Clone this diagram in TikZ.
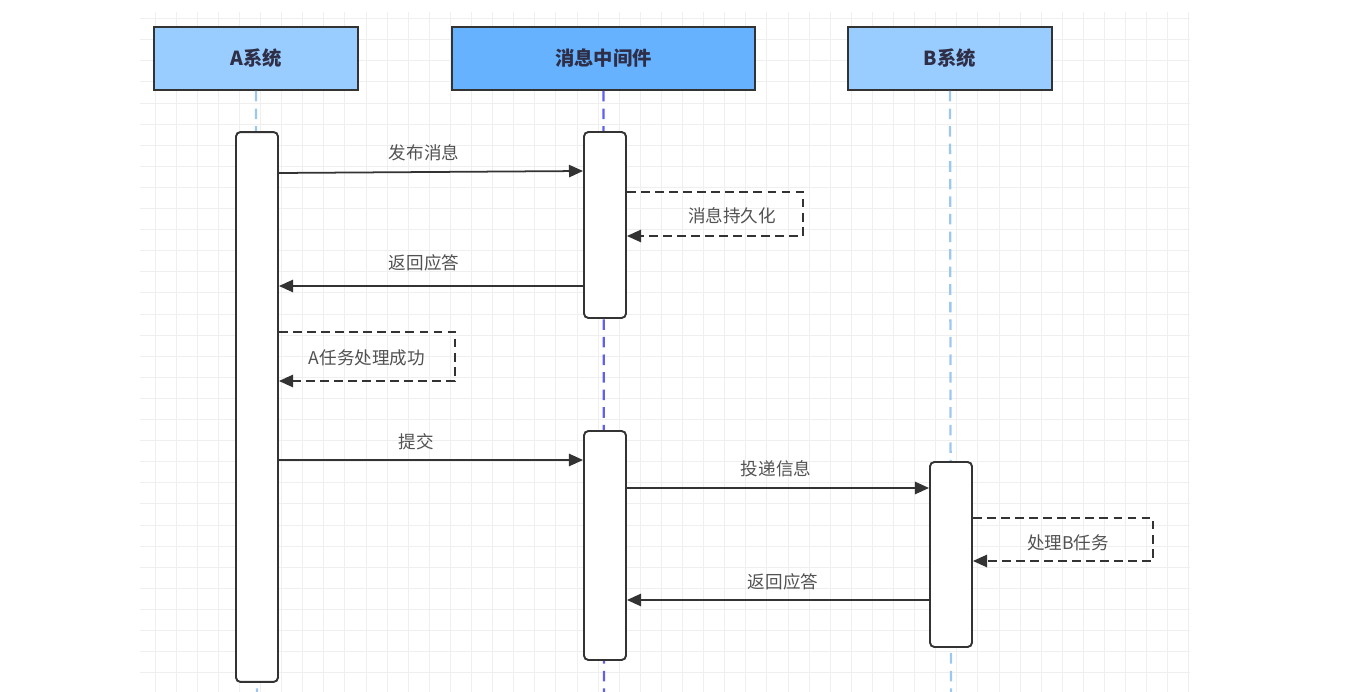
\documentclass[tikz,border=0pt]{standalone}
\usepackage{fontspec}
\usepackage{xcolor}
\usepackage{tikz}
\usetikzlibrary{arrows.meta, positioning}
\newfontfamily\cjk{Noto Sans CJK SC}
\definecolor{hdrlight}{HTML}{99CCFF}
\definecolor{hdrdark}{HTML}{66B2FF}
\definecolor{lifelight}{HTML}{9CC8F0}
\definecolor{lifedark}{HTML}{5F5FF0}
\definecolor{inkgray}{HTML}{333333}
\definecolor{gridgray}{HTML}{EFEFEF}
\tikzset{
  hdrbox/.style={draw=inkgray,line width=1.1pt,fill=hdrlight,minimum width=4.08cm,minimum height=1.26cm,font=\cjk\bfseries\fontsize{11}{13}\selectfont,text=inkgray!90!blue},
  actbox/.style={draw=inkgray,line width=1.1pt,fill=white,rounded corners=2.5pt,minimum width=0.84cm,inner sep=0pt},
  lifeline/.style={dashed,line width=1.3pt,dash pattern=on 6pt off 4pt},
  msg/.style={-{Triangle[length=8pt,width=7pt]},line width=1pt,inkgray},
  selfmsg/.style={msg,dashed,dash pattern=on 5pt off 3pt},
  lbl/.style={font=\cjk\fontsize{10}{12}\selectfont,text=inkgray!85,inner sep=1pt},
  gridline/.style={gridgray,line width=0.5pt},
}

\begin{document}
\begin{tikzpicture}[x=0.02cm,y=-0.02cm]
  \useasboundingbox (0,0) rectangle (1370,692);
  % background grid
  \foreach \k in {0,...,49}
    \draw[gridline] (155+21.1*\k,12) -- (155+21.1*\k,692);
  \foreach \k in {0,...,31}
    \draw[gridline] (140,18.6+21.1*\k) -- (1190,18.6+21.1*\k);

  % participants
  \node[hdrbox] (sysA) at (256,58.5) {A系统};
  \node[hdrbox,fill=hdrdark,minimum width=6.06cm] (mq) at (603.5,58.5) {消息中间件};
  \node[hdrbox] (sysB) at (950,58.5) {B系统};

  % lifelines
  \draw[lifeline,lifelight] (sysA.south) -- (257,692);
  \draw[lifeline,lifedark] (mq.south) -- (604,692);
  \draw[lifeline,lifelight] (sysB.south) -- (951,692);

  % activations
  \node[actbox,minimum height=11cm] (actA) at (257,407) {};
  \node[actbox,minimum height=3.72cm] (actM1) at (605,225) {};
  \node[actbox,minimum height=4.58cm] (actM2) at (605,545.5) {};
  \node[actbox,minimum height=3.7cm] (actB) at (951,554.5) {};

  % messages
  \draw[msg] (actA.east |- 0,173) -- (actM1.west |- 0,171);
  \node[lbl] (pub) at (424,153) {发布消息};

  \coordinate (persist) at (803,214);
  \draw[selfmsg] (actM1.east |- 0,192) -| (persist) |- (actM1.east |- 0,236);
  \node[lbl] (persistlbl) at (732,216) {消息持久化};

  \draw[msg] (actM1.west |- 0,286) -- (actA.east |- 0,286);
  \node[lbl] (ack1) at (424,263) {返回应答};

  \coordinate (doneA) at (455,356);
  \draw[selfmsg] (actA.east |- 0,332) -| (doneA) |- (actA.east |- 0,381);
  \node[lbl] (donelbl) at (367,358) {A任务处理成功};

  \draw[msg] (actA.east |- 0,460) -- (actM2.west |- 0,460);
  \node[lbl] (commit) at (416,442) {提交};

  \draw[msg] (actM2.east |- 0,488) -- (actB.west |- 0,488);
  \node[lbl] (deliver) at (776,469) {投递信息};

  \coordinate (doneB) at (1153,540);
  \draw[selfmsg] (actB.east |- 0,518) -| (doneB) |- (actB.east |- 0,561);
  \node[lbl] (dolbl) at (1068,543) {处理B任务};

  \draw[msg] (actB.west |- 0,600) -- (actM2.east |- 0,600);
  \node[lbl] (ack2) at (783,582) {返回应答};
\end{tikzpicture}
\end{document}
